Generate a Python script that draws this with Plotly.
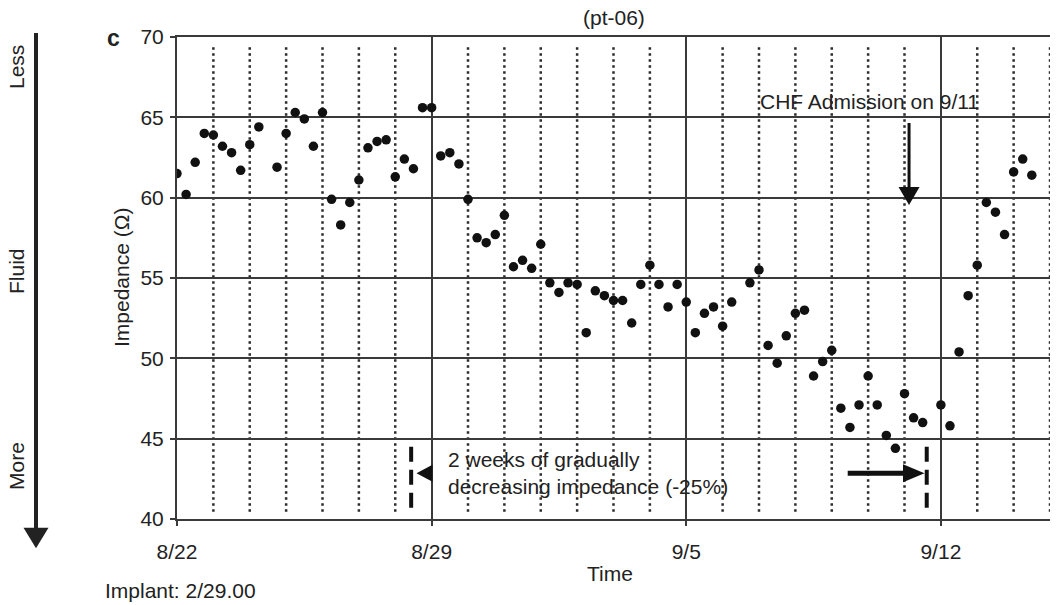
import pandas as pd
import plotly.graph_objects as go

# ---------------- data ----------------
BASE_DATE = "2000-08-22"
# sample time, in days after 8/22 00:00 (roughly every 6 h, some samples missing)
day_offset = [
    0.00, 0.25, 0.50, 0.75, 1.00, 1.25, 1.50, 1.75, 2.00, 2.25, 2.75,
    3.00, 3.25, 3.50, 3.75, 4.00, 4.25, 4.50, 4.75, 5.00, 5.25, 5.50, 5.75,
    6.00, 6.25, 6.50, 6.75, 7.00, 7.25, 7.50, 7.75, 8.00, 8.25, 8.50, 8.75,
    9.00, 9.25, 9.50, 9.75, 10.00, 10.25, 10.50, 10.75, 11.00, 11.25, 11.50, 11.75,
    12.00, 12.25, 12.50, 12.75, 13.00, 13.25, 13.50, 13.75, 14.00, 14.25, 14.50, 14.75,
    15.00, 15.25, 15.75, 16.00, 16.25, 16.50, 16.75, 17.00, 17.25, 17.50, 17.75,
    18.00, 18.25, 18.50, 18.75, 19.00, 19.25, 19.50, 19.75, 20.00, 20.25, 20.50,
    21.00, 21.25, 21.50, 21.75, 22.00, 22.25, 22.50, 22.75, 23.00, 23.25, 23.50,
]
impedance = [
    61.5, 60.2, 62.2, 64.0, 63.9, 63.2, 62.8, 61.7, 63.3, 64.4, 61.9,
    64.0, 65.3, 64.9, 63.2, 65.3, 59.9, 58.3, 59.7, 61.1, 63.1, 63.5, 63.6,
    61.3, 62.4, 61.8, 65.6, 65.6, 62.6, 62.8, 62.1, 59.9, 57.5, 57.2, 57.7,
    58.9, 55.7, 56.1, 55.6, 57.1, 54.7, 54.1, 54.7, 54.6, 51.6, 54.2, 53.9,
    53.6, 53.6, 52.2, 54.6, 55.8, 54.6, 53.2, 54.6, 53.5, 51.6, 52.8, 53.2,
    52.0, 53.5, 54.7, 55.5, 50.8, 49.7, 51.4, 52.8, 53.0, 48.9, 49.8,
    50.5, 46.9, 45.7, 47.1, 48.9, 47.1, 45.2, 44.4, 47.8, 46.3, 46.0,
    47.1, 45.8, 50.4, 53.9, 55.8, 59.7, 59.1, 57.7, 61.6, 62.4, 61.4,
]

x_range = ["2000-08-22", "2000-09-15"]
week_ticks = ["2000-08-22", "2000-08-29", "2000-09-05", "2000-09-12"]
week_labels = ["8/22", "8/29", "9/5", "9/12"]
day_lines = [d for d in range(1, 25) if d % 7 != 0]   # daily dotted grid lines
y_ticks = [40, 45, 50, 55, 60, 65, 70]

title_text = "(pt-06)"
chf_text = "CHF Admission on 9/11"
chf_arrow_time = "2000-09-11 03:00"
period_text = "2 weeks of gradually<br>decreasing impedance (-25%)"
period_start = "2000-08-28 10:30"
period_end = "2000-09-11 14:40"

# ---------------- figure ----------------
times = pd.Timestamp(BASE_DATE) + pd.to_timedelta(day_offset, unit="D")

FONT = "Liberation Sans, Arial, Helvetica, sans-serif"
INK = "#222222"
GRID = "#3a3a3a"

W, H = 1060, 605
ML, MR, MT, MB = 177, 10, 37, 86
PW, PH = W - ML - MR, H - MT - MB


def px(x):
    return (x - ML) / PW


def py(y):
    return (H - MB - y) / PH


fig = go.Figure()
fig.add_trace(go.Scatter(
    x=times, y=impedance, mode="markers",
    marker=dict(size=9.5, color="#111111"),
    hoverinfo="x+y", showlegend=False,
))

shapes = []
base = pd.Timestamp(BASE_DATE)
for d in day_lines:
    xd = base + pd.Timedelta(days=d)
    shapes.append(dict(type="line", xref="x", yref="y", x0=xd, x1=xd,
                       y0=40.45, y1=69.4, layer="below",
                       line=dict(color="#2a2a2a", width=2.5, dash="2.5px,3.5px")))

# dashed markers delimiting the 2-week period
for t in (period_start, period_end):
    shapes.append(dict(type="line", xref="x", yref="y", x0=t, x1=t,
                       y0=40.7, y1=44.6,
                       line=dict(color="#111111", width=4, dash="15px,8px")))

# left-pointing arrow head at the 8/29 line
shapes.append(dict(type="path", xref="paper", yref="paper",
                   path=f"M{px(416.5)},{py(473.3)} L{px(432.5)},{py(464.8)} L{px(432.5)},{py(481.8)} Z",
                   fillcolor="#111111", line=dict(width=0)))
# right arrow (shaft + head)
shapes.append(dict(type="line", xref="paper", yref="paper",
                   x0=px(847.7), x1=px(906), y0=py(473.3), y1=py(473.3),
                   line=dict(color="#111111", width=5)))
shapes.append(dict(type="path", xref="paper", yref="paper",
                   path=f"M{px(924.5)},{py(473.3)} L{px(903)},{py(464.3)} L{px(903)},{py(482.3)} Z",
                   fillcolor="#111111", line=dict(width=0)))

# CHF admission arrow
chf_x = (pd.Timestamp(chf_arrow_time) - base) / pd.Timedelta(days=1)
chf_px = ML + chf_x * PW / 24
shapes.append(dict(type="line", xref="paper", yref="paper",
                   x0=px(chf_px), x1=px(chf_px), y0=py(123), y1=py(190),
                   line=dict(color="#111111", width=3)))
shapes.append(dict(type="path", xref="paper", yref="paper",
                   path=f"M{px(chf_px - 10.5)},{py(187)} L{px(chf_px + 10.5)},{py(187)} L{px(chf_px)},{py(205)} Z",
                   fillcolor="#111111", line=dict(width=0)))

# fluid arrow on the far left
shapes.append(dict(type="line", xref="paper", yref="paper",
                   x0=px(36), x1=px(36), y0=py(33), y1=py(531),
                   line=dict(color="#222222", width=4)))
shapes.append(dict(type="path", xref="paper", yref="paper",
                   path=f"M{px(23.5)},{py(527.7)} L{px(48.5)},{py(527.7)} L{px(36)},{py(548.3)} Z",
                   fillcolor="#222222", line=dict(width=0)))

ann_font = dict(family=FONT, size=21, color=INK)
annotations = [
    dict(text=title_text, x=px(613.5), y=py(18), xanchor="center", yanchor="middle"),
    dict(text=chf_text, x=px(869), y=py(101.5), xanchor="center", yanchor="middle"),
    dict(text=period_text, x=px(446), y=py(472.5), xanchor="left", yanchor="middle", align="left"),
    dict(text="<b>c</b>", x=px(113.5), y=py(38.5), xanchor="center", yanchor="middle",
         font=dict(family=FONT, size=23, color=INK)),
    dict(text="Impedance (Ω)", x=px(121), y=py(278), xanchor="center", yanchor="middle", textangle=-90),
    dict(text="Time", x=px(610), y=py(573), xanchor="center", yanchor="middle"),
    dict(text="Implant: 2/29.00", x=px(103), y=py(590), xanchor="left", yanchor="middle"),
    dict(text="Less", x=px(16), y=py(67), xanchor="center", yanchor="middle", textangle=-90),
    dict(text="Fluid", x=px(16), y=py(271), xanchor="center", yanchor="middle", textangle=-90),
    dict(text="More", x=px(16), y=py(466), xanchor="center", yanchor="middle", textangle=-90),
]
for a in annotations:
    a.setdefault("font", ann_font)
    a.update(xref="paper", yref="paper", showarrow=False)

fig.update_layout(
    width=W, height=H,
    margin=dict(l=ML, r=MR, t=MT, b=MB, pad=0),
    paper_bgcolor="white", plot_bgcolor="white",
    font=dict(family=FONT, size=21, color=INK),
    shapes=shapes, annotations=annotations,
    showlegend=False,
    xaxis=dict(
        type="date", range=x_range,
        tickmode="array", tickvals=week_ticks, ticktext=week_labels,
        showgrid=True, gridcolor=GRID, gridwidth=2,
        showline=True, linecolor=GRID, linewidth=2, mirror=True,
        ticks="outside", ticklen=5, tickwidth=2, tickcolor=GRID,
        ticklabelstandoff=8,
        zeroline=False, fixedrange=True,
    ),
    yaxis=dict(
        range=[40, 70], tickmode="array", tickvals=y_ticks,
        showgrid=True, gridcolor=GRID, gridwidth=2,
        showline=True, linecolor=GRID, linewidth=2, mirror=False,
        ticks="outside", ticklen=5, tickwidth=2, tickcolor=GRID,
        ticklabelstandoff=2,
        zeroline=False, fixedrange=True,
    ),
)

fig.write_html("out.html")
